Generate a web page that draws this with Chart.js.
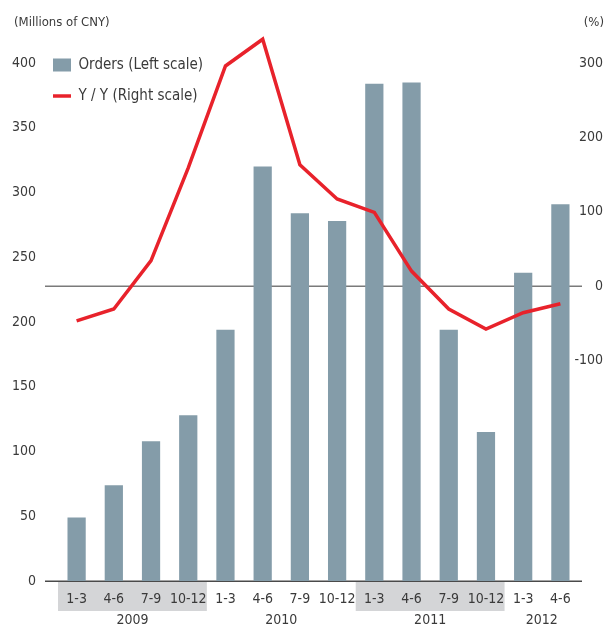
<!DOCTYPE html>
<html lang="en">
<head>
<meta charset="UTF-8">
<title>Orders and Y/Y change</title>
<style>
  html, body { margin: 0; padding: 0; background: #fff; }
  #wrap { width: 610px; height: 635px; }
</style>
</head>
<body>
<div id="wrap"><canvas id="chart" width="610" height="635"></canvas></div>
<script src="https://cdn.jsdelivr.net/npm/chart.js"></script>
<script>
// data
const quarters = ['1-3', '4-6', '7-9', '10-12', '1-3', '4-6', '7-9', '10-12', '1-3', '4-6', '7-9', '10-12', '1-3', '4-6'];
const years = ['2009', '2010', '2011', '2012'];
const yearSpans = [4, 4, 4, 2];
const shadedYears = ['2009', '2011'];
const orders = [49, 74, 108, 128, 194, 320, 284, 278, 384, 385, 194, 115, 238, 291];
const yoy = [-47, -31, 34, 159, 296, 332, 163, 117, 99, 20, -31, -58, -36, -24];
const leftTicks = [0, 50, 100, 150, 200, 250, 300, 350, 400];
const rightTicks = [-100, 0, 100, 200, 300];

const FONT = '"Liberation Sans Narrow", "DejaVu Sans Condensed", "Liberation Sans", sans-serif';
const TEXT = '#3a3a3a';
const BAR = '#849ca9';
const RED = '#e8222b';

// bands, year labels, unit labels and the two horizontal lines
const decor = {
  id: 'decor',
  beforeDraw(chart) {
    const { ctx, chartArea: a, scales: { x } } = chart;
    const w = (x.right - x.left) / quarters.length;
    ctx.save();
    ctx.fillStyle = '#d4d5d7';
    let i = 0;
    years.forEach((yr, k) => {
      if (shadedYears.includes(yr)) {
        ctx.fillRect(x.getPixelForValue(i) - w / 2, a.bottom + 1, w * yearSpans[k], 29);
      }
      i += yearSpans[k];
    });
    ctx.restore();
  },
  beforeDatasetsDraw(chart) {
    const { ctx, chartArea: a, scales: { y, y1 } } = chart;
    ctx.save();
    ctx.lineWidth = 1.5;
    ctx.strokeStyle = '#7a7a7a';
    let yy = Math.round(y1.getPixelForValue(0)) + 0.25;
    ctx.beginPath(); ctx.moveTo(a.left - 13, yy); ctx.lineTo(a.right + 3, yy); ctx.stroke();
    ctx.strokeStyle = '#4a4a4a';
    yy = Math.round(y.getPixelForValue(0)) + 0.25;
    ctx.beginPath(); ctx.moveTo(a.left - 13, yy); ctx.lineTo(a.right + 3, yy); ctx.stroke();
    ctx.restore();
  },
  afterDraw(chart) {
    const { ctx, chartArea: a, scales: { x } } = chart;
    ctx.save();
    ctx.fillStyle = TEXT;
    ctx.textBaseline = 'middle';
    ctx.font = '14px ' + FONT;
    ctx.textAlign = 'center';
    let i = 0;
    years.forEach((yr, k) => {
      const mid = (x.getPixelForValue(i) + x.getPixelForValue(i + yearSpans[k] - 1)) / 2;
      ctx.fillText(yr, mid, a.bottom + 39);
      i += yearSpans[k];
    });
    ctx.font = '13px ' + FONT;
    ctx.textAlign = 'left';
    ctx.fillText('(Millions of CNY)', 14, 23);
    ctx.textAlign = 'right';
    ctx.fillText('(%)', 604, 23);
    ctx.restore();
  },
  afterLayout(chart) {
    // legend sits in the top-left corner, partly left of the plot area
    const lg = chart.legend, a = chart.chartArea;
    const w = lg.right - lg.left, h = lg.bottom - lg.top;
    lg.left = a.left - 21; lg.right = lg.left + w;
    lg.top = a.top - 21.5; lg.bottom = lg.top + h;
  }
};

new Chart(document.getElementById('chart'), {
  data: {
    labels: quarters,
    datasets: [{
      type: 'bar',
      label: 'Orders (Left scale)',
      data: orders,
      yAxisID: 'y',
      backgroundColor: BAR,
      borderWidth: 0,
      categoryPercentage: 1,
      barPercentage: 0.49,
      order: 2
    }, {
      type: 'line',
      label: 'Y / Y (Right scale)',
      data: yoy,
      yAxisID: 'y1',
      borderColor: RED,
      backgroundColor: RED,
      borderWidth: 3.5,
      pointRadius: 0,
      tension: 0,
      fill: false,
      clip: false,
      order: 1
    }]
  },
  options: {
    responsive: false,
    animation: false,
    layout: { padding: { left: 0, right: 7, top: 63, bottom: 0 } },
    plugins: {
      tooltip: { enabled: false },
      legend: {
        position: 'chartArea',
        align: 'start',
        labels: {
          usePointStyle: true,
          pointStyleWidth: 18,
          boxHeight: 13,
          padding: 16,
          color: TEXT,
          font: { family: FONT, size: 15 },
          sort: (a, b) => a.datasetIndex - b.datasetIndex,
          generateLabels(chart) {
            const items = Chart.defaults.plugins.legend.labels.generateLabels(chart);
            items.forEach(it => {
              it.pointStyle = chart.data.datasets[it.datasetIndex].type === 'line' ? 'line' : 'rect';
            });
            return items;
          }
        }
      }
    },
    scales: {
      x: {
        grid: { display: false, drawTicks: false },
        border: { display: false },
        ticks: { color: TEXT, font: { family: FONT, size: 14 }, padding: 10, autoSkip: false, maxRotation: 0 },
        afterFit(s) { s.height = 54; }
      },
      y: {
        position: 'left',
        min: 0,
        max: 400,
        grid: { display: false, drawTicks: false },
        border: { display: false },
        ticks: { color: TEXT, font: { family: FONT, size: 14 }, padding: 22 },
        afterBuildTicks(s) { s.ticks = leftTicks.map(v => ({ value: v })); },
        afterFit(s) { s.width = 58; }
      },
      y1: {
        position: 'right',
        min: -397,
        max: 300,
        grid: { display: false, drawTicks: false },
        border: { display: false },
        // mirrored so the labels are not clipped to the narrow axis box
        ticks: { color: TEXT, font: { family: FONT, size: 14 }, mirror: true, crossAlign: 'near', padding: 24 },
        afterBuildTicks(s) { s.ticks = rightTicks.map(v => ({ value: v })); },
        afterFit(s) { s.width = 24; }
      }
    }
  },
  plugins: [decor]
});
</script>
</body>
</html>
